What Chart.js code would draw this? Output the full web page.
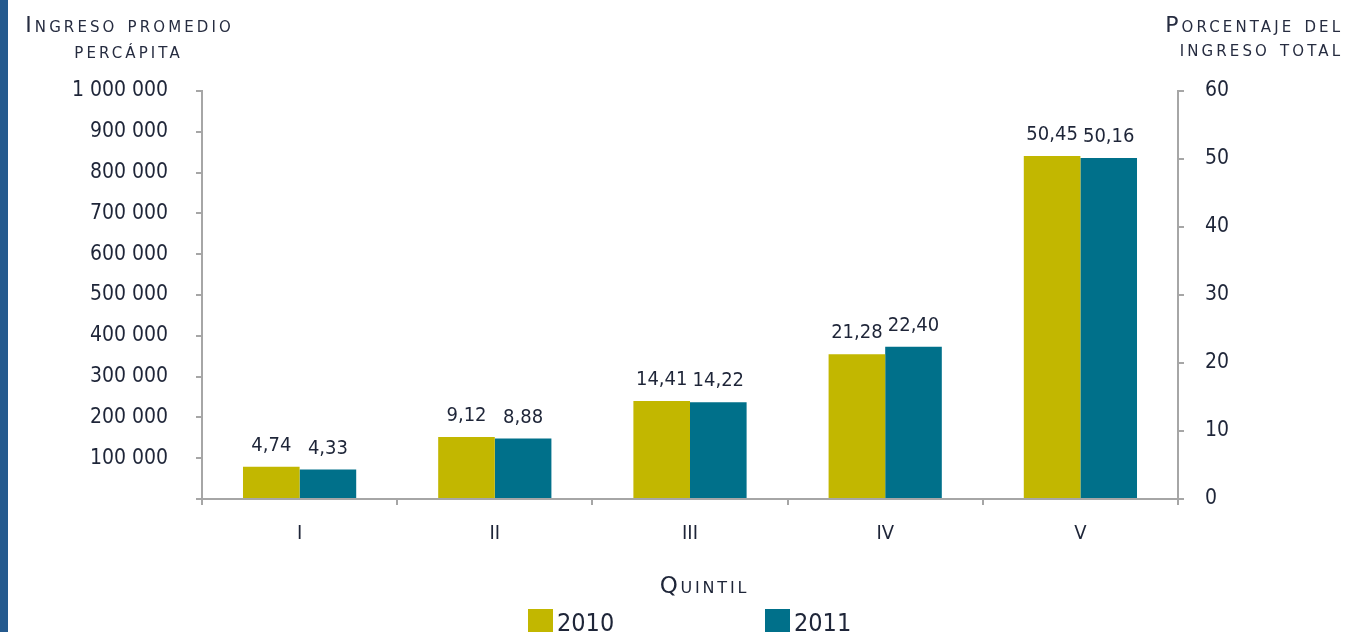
<!DOCTYPE html>
<html><head><meta charset="utf-8">
<script src="https://cdn.jsdelivr.net/npm/chart.js@4"></script>
<style>html,body{margin:0;padding:0;background:#fff;overflow:hidden}canvas{display:block}</style>
</head><body>
<canvas id="c" width="1349" height="632"></canvas>
<script>
const categories = ['I', 'II', 'III', 'IV', 'V'];
const seriesNames = ['2010', '2011'];
const series2010 = [4.74, 9.12, 14.41, 21.28, 50.45];
const series2011 = [4.33, 8.88, 14.22, 22.40, 50.16];
const leftTicks = [0, 100000, 200000, 300000, 400000, 500000, 600000, 700000, 800000, 900000, 1000000];
const rightTicks = [0, 10, 20, 30, 40, 50, 60];
const leftTitle = ['Ingreso promedio', 'percápita'];
const rightTitle = ['Porcentaje del', 'ingreso total'];
const xTitle = 'Quintil';

const FAM = '"DejaVu Sans Condensed", "DejaVu Sans", sans-serif';
const TFAM = '"DejaVu Sans", sans-serif';
const TXT = '#1e2538';
const TTL = '#262c40';
const AX = '#a6a6a6';
const COLORS = ['#c2b700', '#00708a'];

function fmtSpace(v) { return v === 0 ? '' : String(v).replace(/\B(?=(\d{3})+(?!\d))/g, ' '); }
function fmtDec(v) { return v.toFixed(2).replace('.', ','); }

function spacedText(ctx, text, x, y, align, spacing) {
  if ('letterSpacing' in ctx) {
    ctx.letterSpacing = spacing + 'px';
    const w = ctx.measureText(text).width - spacing;
    const sx = align === 'center' ? x - w / 2 : (align === 'right' ? x - w : x);
    ctx.textAlign = 'left';
    ctx.fillText(text, sx, y);
    ctx.letterSpacing = '0px';
  } else {
    ctx.textAlign = align;
    ctx.fillText(text, x, y);
  }
}

const decor = {
  id: 'decor',
  beforeDraw(chart) {
    const ctx = chart.ctx;
    ctx.save();
    ctx.fillStyle = '#ffffff';
    ctx.fillRect(0, 0, chart.width, chart.height);
    ctx.fillStyle = '#255a8e';
    ctx.fillRect(0, 0, 8, chart.height);
    ctx.restore();
  },
  afterDatasetsDraw(chart) {
    const ctx = chart.ctx;
    ctx.save();
    ctx.font = '20px ' + FAM;
    ctx.fillStyle = TXT;
    ctx.textAlign = 'center';
    ctx.textBaseline = 'alphabetic';
    chart.data.datasets.forEach((ds, i) => {
      chart.getDatasetMeta(i).data.forEach((bar, j) => {
        ctx.fillText(fmtDec(ds.data[j]), bar.x, bar.y - 16);
      });
    });
    ctx.restore();
  },
  afterDraw(chart) {
    const ctx = chart.ctx;
    ctx.save();
    ctx.fillStyle = TTL;
    ctx.textBaseline = 'alphabetic';
    ctx.font = 'small-caps 22px ' + TFAM;
    try { ctx.fontVariantCaps = 'small-caps'; } catch (e) {}
    spacedText(ctx, leftTitle[0], 128, 32, 'center', 3.1);
    spacedText(ctx, leftTitle[1], 127, 58, 'center', 3.1);
    spacedText(ctx, rightTitle[0], 1340, 32, 'right', 3.1);
    spacedText(ctx, rightTitle[1], 1340, 56, 'right', 3.1);
    ctx.font = 'small-caps 23px ' + TFAM;
    try { ctx.fontVariantCaps = 'small-caps'; } catch (e) {}
    ctx.fillStyle = TXT;
    spacedText(ctx, xTitle, 703, 593, 'center', 2.8);
    try { ctx.fontVariantCaps = 'normal'; } catch (e) {}
    ctx.font = '25px ' + FAM;
    ctx.textAlign = 'left';
    const lx = [528, 765];
    seriesNames.forEach((n, i) => {
      ctx.fillStyle = COLORS[i];
      ctx.fillRect(lx[i], 609, 25, 24);
      ctx.fillStyle = TXT;
      ctx.fillText(n, lx[i] + 29, 631);
    });
    ctx.restore();
  }
};

new Chart(document.getElementById('c'), {
  type: 'bar',
  data: {
    labels: categories,
    datasets: [
      { label: seriesNames[0], data: series2010, backgroundColor: COLORS[0], yAxisID: 'y1' },
      { label: seriesNames[1], data: series2011, backgroundColor: COLORS[1], yAxisID: 'y1' }
    ]
  },
  options: {
    responsive: false,
    animation: false,
    devicePixelRatio: 1,
    categoryPercentage: 0.58,
    barPercentage: 1.0,
    layout: { padding: { top: 91, left: 0, right: 0, bottom: 0 } },
    plugins: { legend: { display: false }, tooltip: { enabled: false }, title: { display: false } },
    scales: {
      x: {
        offset: true,
        grid: { offset: true, drawOnChartArea: false, tickLength: 6, color: AX, lineWidth: 2 },
        border: { color: AX, width: 2 },
        ticks: { font: { family: FAM, size: 20 }, color: TXT, padding: 17 },
        afterFit(s) { s.height = 133; }
      },
      y: {
        position: 'left',
        min: 0, max: 1000000,
        afterBuildTicks(s) { s.ticks = leftTicks.map(v => ({ value: v })); },
        grid: { drawOnChartArea: false, tickLength: 6, color: AX, lineWidth: 2 },
        border: { color: AX, width: 2 },
        ticks: { font: { family: FAM, size: 21 }, color: TXT, padding: 28, callback: v => fmtSpace(v) },
        afterFit(s) { s.width = 202; }
      },
      y1: {
        position: 'right',
        min: 0, max: 60,
        afterBuildTicks(s) { s.ticks = rightTicks.map(v => ({ value: v })); },
        grid: { drawOnChartArea: false, tickLength: 6, color: AX, lineWidth: 2 },
        border: { color: AX, width: 2 },
        ticks: { font: { family: FAM, size: 21 }, color: TXT, padding: 21, callback: v => String(v) },
        afterFit(s) { s.width = 171; }
      }
    }
  },
  plugins: [decor]
});
</script>
</body></html>
